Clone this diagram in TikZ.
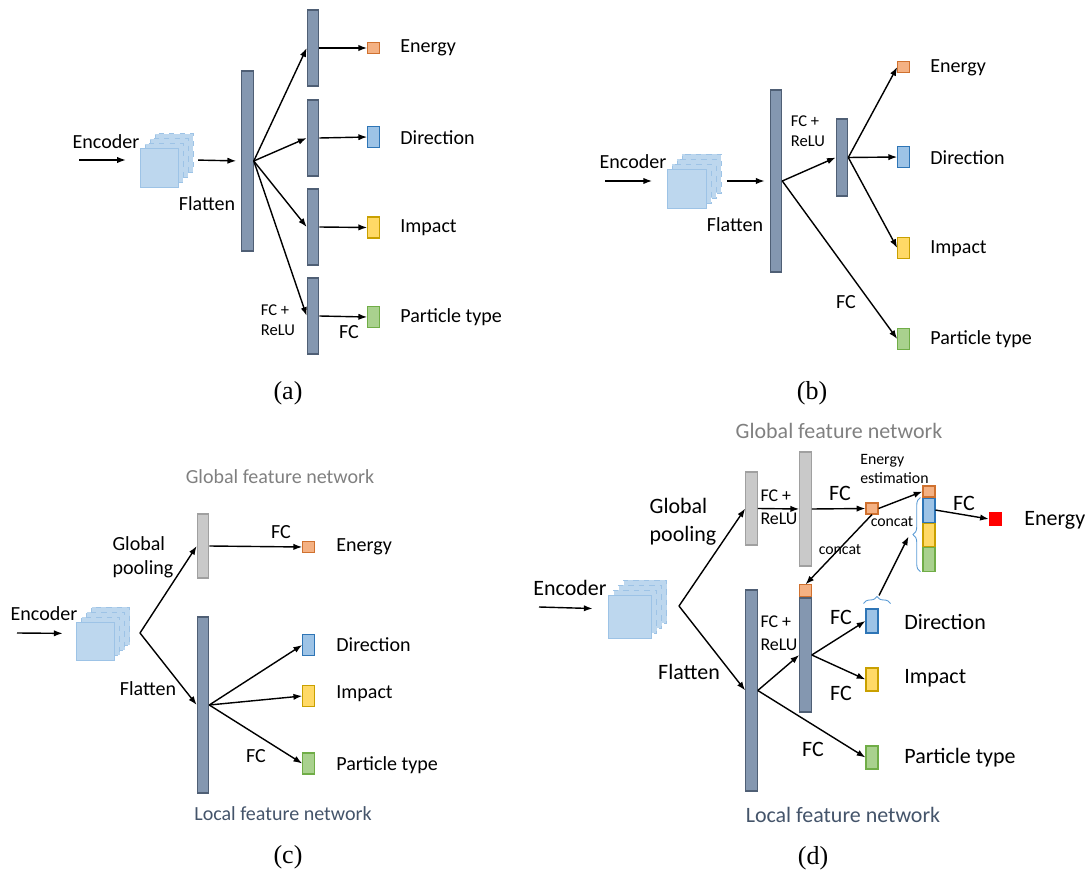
\documentclass[tikz,border=0pt]{standalone}
\usepackage{fontspec}
\setmainfont{Carlito}
\newfontfamily\capfont{Liberation Serif}
\usepackage{tikz}
\usetikzlibrary{arrows.meta,positioning,calc,decorations.pathreplacing}
\definecolor{barFill}{HTML}{8497B0}
\definecolor{barEdge}{HTML}{4F5F75}
\definecolor{gbarFill}{HTML}{C9C9C9}
\definecolor{gbarEdge}{HTML}{A0A0A0}
\definecolor{mapFill}{HTML}{BDD7EE}
\definecolor{mapEdge}{HTML}{9DC3E6}
\definecolor{eFill}{HTML}{F4B183}
\definecolor{eEdge}{HTML}{D0712F}
\definecolor{dFill}{HTML}{9DC3E6}
\definecolor{dEdge}{HTML}{2E75B6}
\definecolor{iFill}{HTML}{FFD966}
\definecolor{iEdge}{HTML}{C9A000}
\definecolor{pFill}{HTML}{A9D18E}
\definecolor{pEdge}{HTML}{70AD47}
\definecolor{gTitle}{HTML}{808080}
\definecolor{lTitle}{HTML}{44546A}
\definecolor{braceCol}{HTML}{5B9BD5}
\newcommand{\labfont}{\fontsize{11.4}{13.7}\selectfont}
\newcommand{\labfontd}{\fontsize{12.5}{15.9}\selectfont}
\newcommand{\relufont}{\fontsize{9.4}{11.4}\selectfont}
\newcommand{\relufontd}{\fontsize{10.2}{13.1}\selectfont}
\newcommand{\notefont}{\fontsize{9}{10.8}\selectfont}
% stack of feature maps: name, centre, side of one map (cm)
\newcommand{\featmaps}[3]{%
  \node[minimum size=#3cm+0.3cm,inner sep=0pt] (#1) at (#2) {};
  \foreach \k in {3,2,1}
    \filldraw[mapback] ([shift={(\k*0.1cm,\k*0.1cm)}]#1.south west) rectangle ++(#3cm,#3cm);
  \filldraw[mapfront] (#1.south west) rectangle ++(#3cm,#3cm);
}

\begin{document}
\begin{tikzpicture}[x=0.02cm,y=-0.02cm,font=\labfont,
    arr/.style={-{Latex[length=5pt,width=3.6pt]},line width=0.8pt},
    bar/.style={draw=barEdge,fill=barFill,line width=0.6pt,minimum width=0.23cm,inner sep=0pt},
    gbar/.style={bar,draw=gbarEdge,fill=gbarFill},
    mapback/.style={fill=mapFill,draw=mapEdge,dashed,line width=0.4pt},
    mapfront/.style={fill=mapFill,draw=mapEdge,line width=0.4pt},
    outbox/.style={line width=0.6pt,minimum width=0.23cm,minimum height=0.42cm,inner sep=0pt},
    ebox/.style={outbox,draw=eEdge,fill=eFill,minimum height=0.21cm},
    dbox/.style={outbox,draw=dEdge,fill=dFill},
    ibox/.style={outbox,draw=iEdge,fill=iFill},
    pbox/.style={outbox,draw=pEdge,fill=pFill},
    txt/.style={inner sep=0pt},
    lbl/.style={inner sep=0pt,anchor=west},
    two/.style={inner sep=0pt,align=left},
    relu/.style={two,font=\relufont},
    note/.style={inner sep=0pt,font=\notefont},
    gtitle/.style={inner sep=0pt,text=gTitle},
    ltitle/.style={inner sep=0pt,text=lTitle},
    captxt/.style={inner sep=0pt,font=\capfont\fontsize{14.8}{16}\selectfont},
    brc/.style={draw=braceCol,line width=0.5pt,decorate}]
  \useasboundingbox (0,0) rectangle (1090,875);

  % ---------- (a) ----------
  \node[txt] (enca) at (106,142) {Encoder};
  \coordinate (ina) at (79,160);
  \featmaps{sa}{167,160}{0.77}
  \draw[arr,shorten >=0.28cm] (ina) -- (sa.west);
  \node[bar,minimum height=3.6cm] (fa) at (247.5,161) {};
  \node[txt] (fla) at (207,204) {Flatten};
  \draw[arr,shorten <=0.08cm,shorten >=0.1cm] (sa.east) -- (fa.west);
  \foreach \n/\y in {1/48,2/138,3/227,4/316}
    \node[bar,minimum height=1.52cm] (a\n) at (313,\y) {};
  \node[ebox] (ea) at (373.5,48) {};
  \node[dbox] (da) at (373.5,137) {};
  \node[ibox] (ia) at (373.5,227.5) {};
  \node[pbox] (pa) at (373.5,317) {};
  \foreach \n/\o in {1/ea,2/da,3/ia,4/pa}{
    \draw[arr] (fa.east) -- (a\n.west);
    \draw[arr] (a\n.east) -- (\o.west);
  }
  \node[relu] (fra) at (278,320) {FC +\\ReLU};
  \node[txt] (fca) at (349,332) {FC};
  \node[lbl] (tea) at (400,48) {Energy};
  \node[lbl] (tda) at (400,138) {Direction};
  \node[lbl] (tia) at (400,228) {Impact};
  \node[lbl] (tpa) at (400,317) {Particle type};
  \node[captxt] (capa) at (288,393) {(a)};

  % ---------- (b) ----------
  \node[txt] (encb) at (633,162) {Encoder};
  \coordinate (inb) at (605,181);
  \featmaps{sb}{694.5,181}{0.78}
  \draw[arr,shorten >=0.3cm] (inb) -- (sb.west);
  \node[bar,minimum height=3.64cm] (fb) at (776,181) {};
  \draw[arr,shorten <=0.1cm,shorten >=0.1cm] (sb.east) -- (fb.west);
  \node[txt] (flb) at (735,225) {Flatten};
  \node[bar,minimum height=1.54cm] (hb) at (842,157.5) {};
  \draw[arr] (fb.east) -- (hb.west);
  \node[relu] (frb) at (808,131) {FC +\\ReLU};
  \node[ebox] (eb) at (903.5,67) {};
  \node[dbox] (db) at (903.5,157) {};
  \node[ibox] (ib) at (903.5,248) {};
  \node[pbox] (pb) at (903.5,339) {};
  \foreach \o in {eb,db,ib}
    \draw[arr] (hb.east) -- (\o.west);
  \draw[arr] (fb.east) -- (pb.west);
  \node[txt] (fcb) at (846,302) {FC};
  \node[lbl] (teb) at (930,68) {Energy};
  \node[lbl] (tdb) at (930,158) {Direction};
  \node[lbl] (tib) at (930,249) {Impact};
  \node[lbl] (tpb) at (930,339) {Particle type};
  \node[captxt] (capb) at (812,393) {(b)};

  % ---------- (c) ----------
  \node[gtitle] (gtc) at (280,477) {Global feature network};
  \node[txt] (encc) at (44,614) {Encoder};
  \coordinate (inc) at (17,633);
  \featmaps{sc}{103.5,633.5}{0.76}
  \draw[arr,shorten >=0.28cm] (inc) -- (sc.west);
  \coordinate (brc) at (140,633);
  \node[gbar,minimum height=1.28cm] (gc) at (203,546) {};
  \node[bar,minimum height=3.52cm] (lc) at (203,705) {};
  \draw[arr] (brc) -- (gc.west);
  \draw[arr] (brc) -- (lc.west);
  \node[two] (gpc) at (143,557) {Global\\pooling};
  \node[txt] (flc) at (148,689) {Flatten};
  \node[ebox] (ec) at (308.5,547) {};
  \node[dbox] (dc) at (308.5,645) {};
  \node[ibox] (ic) at (308.5,696) {};
  \node[pbox] (pc) at (308.5,763.5) {};
  \draw[arr] (gc.east) -- (ec.west);
  \foreach \o in {dc,ic,pc}
    \draw[arr] (lc.east) -- (\o.west);
  \node[txt] (fcc1) at (281,532) {FC};
  \node[txt] (fcc2) at (256,756) {FC};
  \node[lbl] (tec) at (336,547) {Energy};
  \node[lbl] (tdc) at (336,645) {Direction};
  \node[lbl] (tic) at (336,694) {Impact};
  \node[lbl] (tpc) at (336,765) {Particle type};
  \node[ltitle] (ltc) at (283,814) {Local feature network};
  \node[captxt] (capc) at (288,857) {(c)};

  % ---------- (d) ----------
  \begin{scope}[font=\labfontd,relu/.style={two,font=\relufontd}]
  \node[gtitle] (gtd) at (839,431) {Global feature network};
  \node[txt] (encd) at (570,588) {Encoder};
  \coordinate (ind) at (539,607);
  \featmaps{sd}{638,609}{0.86}
  \draw[arr,shorten >=0.32cm] (ind) -- (sd.west);
  \coordinate (brd) at (679,606);
  \node[gbar,minimum height=1.46cm] (gd1) at (751.5,508.5) {};
  \node[gbar,minimum height=2.28cm] (gd2) at (805.5,509) {};
  \node[bar,minimum height=4.02cm] (ld1) at (751.5,690.5) {};
  \node[bar,minimum height=2.28cm] (ld2) at (805.5,655) {};
  \node[ebox,minimum height=0.24cm,anchor=south] (capd) at (ld2.north) {};
  \draw[arr] (brd) -- (gd1.west);
  \draw[arr] (brd) -- (ld1.west);
  \node[two] (gpd) at (683,522) {Global\\pooling};
  \node[txt] (fld) at (689,672) {Flatten};
  % global branch
  \draw[arr] (gd1.east) -- (gd2.west);
  \node[relu] (frd1) at (779,507.5) {FC +\\ReLU};
  \node[ebox,minimum width=0.24cm,minimum height=0.22cm] (estd) at (872,508.5) {};
  \draw[arr] (gd2.east) -- (estd.west);
  \node[txt] (fcd1) at (840,493) {FC};
  \node[note,align=left,anchor=west] (estl) at (860,468.5) {Energy\\estimation};
  \node[ebox,minimum width=0.24cm,minimum height=0.22cm] (c0) at (929,491.5) {};
  \node[dbox,minimum width=0.24cm,minimum height=0.48cm,below=0pt of c0] (c1) {};
  \node[ibox,minimum width=0.24cm,minimum height=0.46cm,below=0pt of c1] (c2) {};
  \node[pbox,minimum width=0.24cm,minimum height=0.48cm,below=0pt of c2] (c3) {};
  \draw[arr] (estd.east) -- (c0.west);
  \draw[arr] (estd.south) -- (capd.north);
  \node[note] (cc1) at (892,522) {concat};
  \node[note] (cc2) at (840,550) {concat};
  \draw[brc,decoration={brace,amplitude=0.15cm}]
    ([xshift=-0.04cm]c3.south west) -- ([xshift=-0.04cm]c1.north west);
  \coordinate (brtip) at ($(c1.north west)!0.5!(c3.south west)+(-0.26cm,0)$);
  \node[draw=red,fill=red,minimum size=0.25cm,inner sep=0pt] (redd) at (995.5,519) {};
  \draw[arr] (c1.east) -- (redd.west);
  \node[txt] (fcd5) at (964,503) {FC};
  \node[lbl] (ted) at (1024,520) {Energy};
  % local branch
  \draw[arr] (ld1.east) -- (ld2.west);
  \node[relu] (frd2) at (779,633.5) {FC +\\ReLU};
  \node[dbox,minimum width=0.24cm,minimum height=0.48cm] (dd) at (872,621) {};
  \node[ibox,minimum width=0.24cm,minimum height=0.46cm] (id) at (872,679.5) {};
  \node[pbox,minimum width=0.24cm,minimum height=0.46cm] (pd) at (872,757.5) {};
  \draw[brc,decoration={brace,amplitude=0.14cm}]
    ([shift={(-0.04cm,0.1cm)}]dd.north west) -- ([shift={(0.24cm,0.1cm)}]dd.north east);
  \coordinate (brtip2) at ($(dd.north)+(0.14cm,0.26cm)$);
  \draw[arr,shorten >=0.04cm] (brtip2) -- (brtip);
  \draw[arr] (ld2.east) -- (dd.west);
  \draw[arr] (ld2.east) -- (id.west);
  \draw[arr] (ld1.east) -- (pd.west);
  \node[txt] (fcd2) at (841,617) {FC};
  \node[txt] (fcd3) at (841,693) {FC};
  \node[txt] (fcd4) at (813,749) {FC};
  \node[lbl] (tdd) at (904,622) {Direction};
  \node[lbl] (tid) at (904,678) {Impact};
  \node[lbl] (tpd) at (904,758) {Particle type};
  \node[ltitle] (ltd) at (843,815) {Local feature network};
  \node[captxt] (capd2) at (813,858) {(d)};
  \end{scope}
\end{tikzpicture}
\end{document}
